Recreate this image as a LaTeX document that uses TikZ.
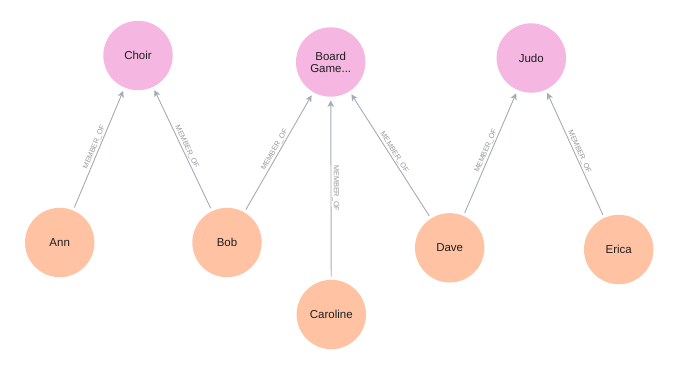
\documentclass[tikz,border=0pt]{standalone}
\usepackage{fontspec}
\setmainfont{Liberation Sans}
\usetikzlibrary{arrows.meta}
\definecolor{grp}{RGB}{245,183,226}
\definecolor{per}{RGB}{255,195,163}
\definecolor{edg}{RGB}{165,171,182}
\definecolor{lbl}{RGB}{150,150,150}
\begin{document}
\begin{tikzpicture}[x=1pt,y=-1pt,
  base/.style={circle,inner sep=0pt,minimum size=69.4pt,text=black!88,
    font=\fontsize{11.5}{12}\selectfont,align=center},
  group/.style={base,fill=grp},
  person/.style={base,fill=per},
  rel/.style={draw=edg,line width=0.9pt,shorten <=3pt,shorten >=3.5pt,
    -{Stealth[length=6.5pt,width=6.5pt,inset=1.8pt]}},
  rlab/.style={sloped,above=0.5pt,inner sep=0.5pt,text=lbl,
    font=\fontsize{7.3}{8}\selectfont}]
\useasboundingbox (0,0) rectangle (674,367);
\node[group] (choir) at (138,55.5) {Choir};
\node[group] (board) at (330.7,62) {Board\\Game...};
\node[group] (judo) at (531.3,58) {Judo};
\node[person] (ann) at (59.7,242.5) {Ann};
\node[person] (bob) at (227,242.5) {Bob};
\node[person] (caro) at (331.3,314.5) {Caroline};
\node[person] (dave) at (449.7,247.8) {Dave};
\node[person] (erica) at (618.7,249.5) {Erica};
\draw[rel] (ann) -- node[rlab]{MEMBER\_OF} (choir);
\draw[rel] (bob) -- node[rlab]{MEMBER\_OF} (choir);
\draw[rel] (bob) -- node[rlab]{MEMBER\_OF} (board);
\draw[rel] (caro) -- node[rlab]{MEMBER\_OF} (board);
\draw[rel] (dave) -- node[rlab]{MEMBER\_OF} (board);
\draw[rel] (dave) -- node[rlab]{MEMBER\_OF} (judo);
\draw[rel] (erica) -- node[rlab]{MEMBER\_OF} (judo);
\end{tikzpicture}
\end{document}
